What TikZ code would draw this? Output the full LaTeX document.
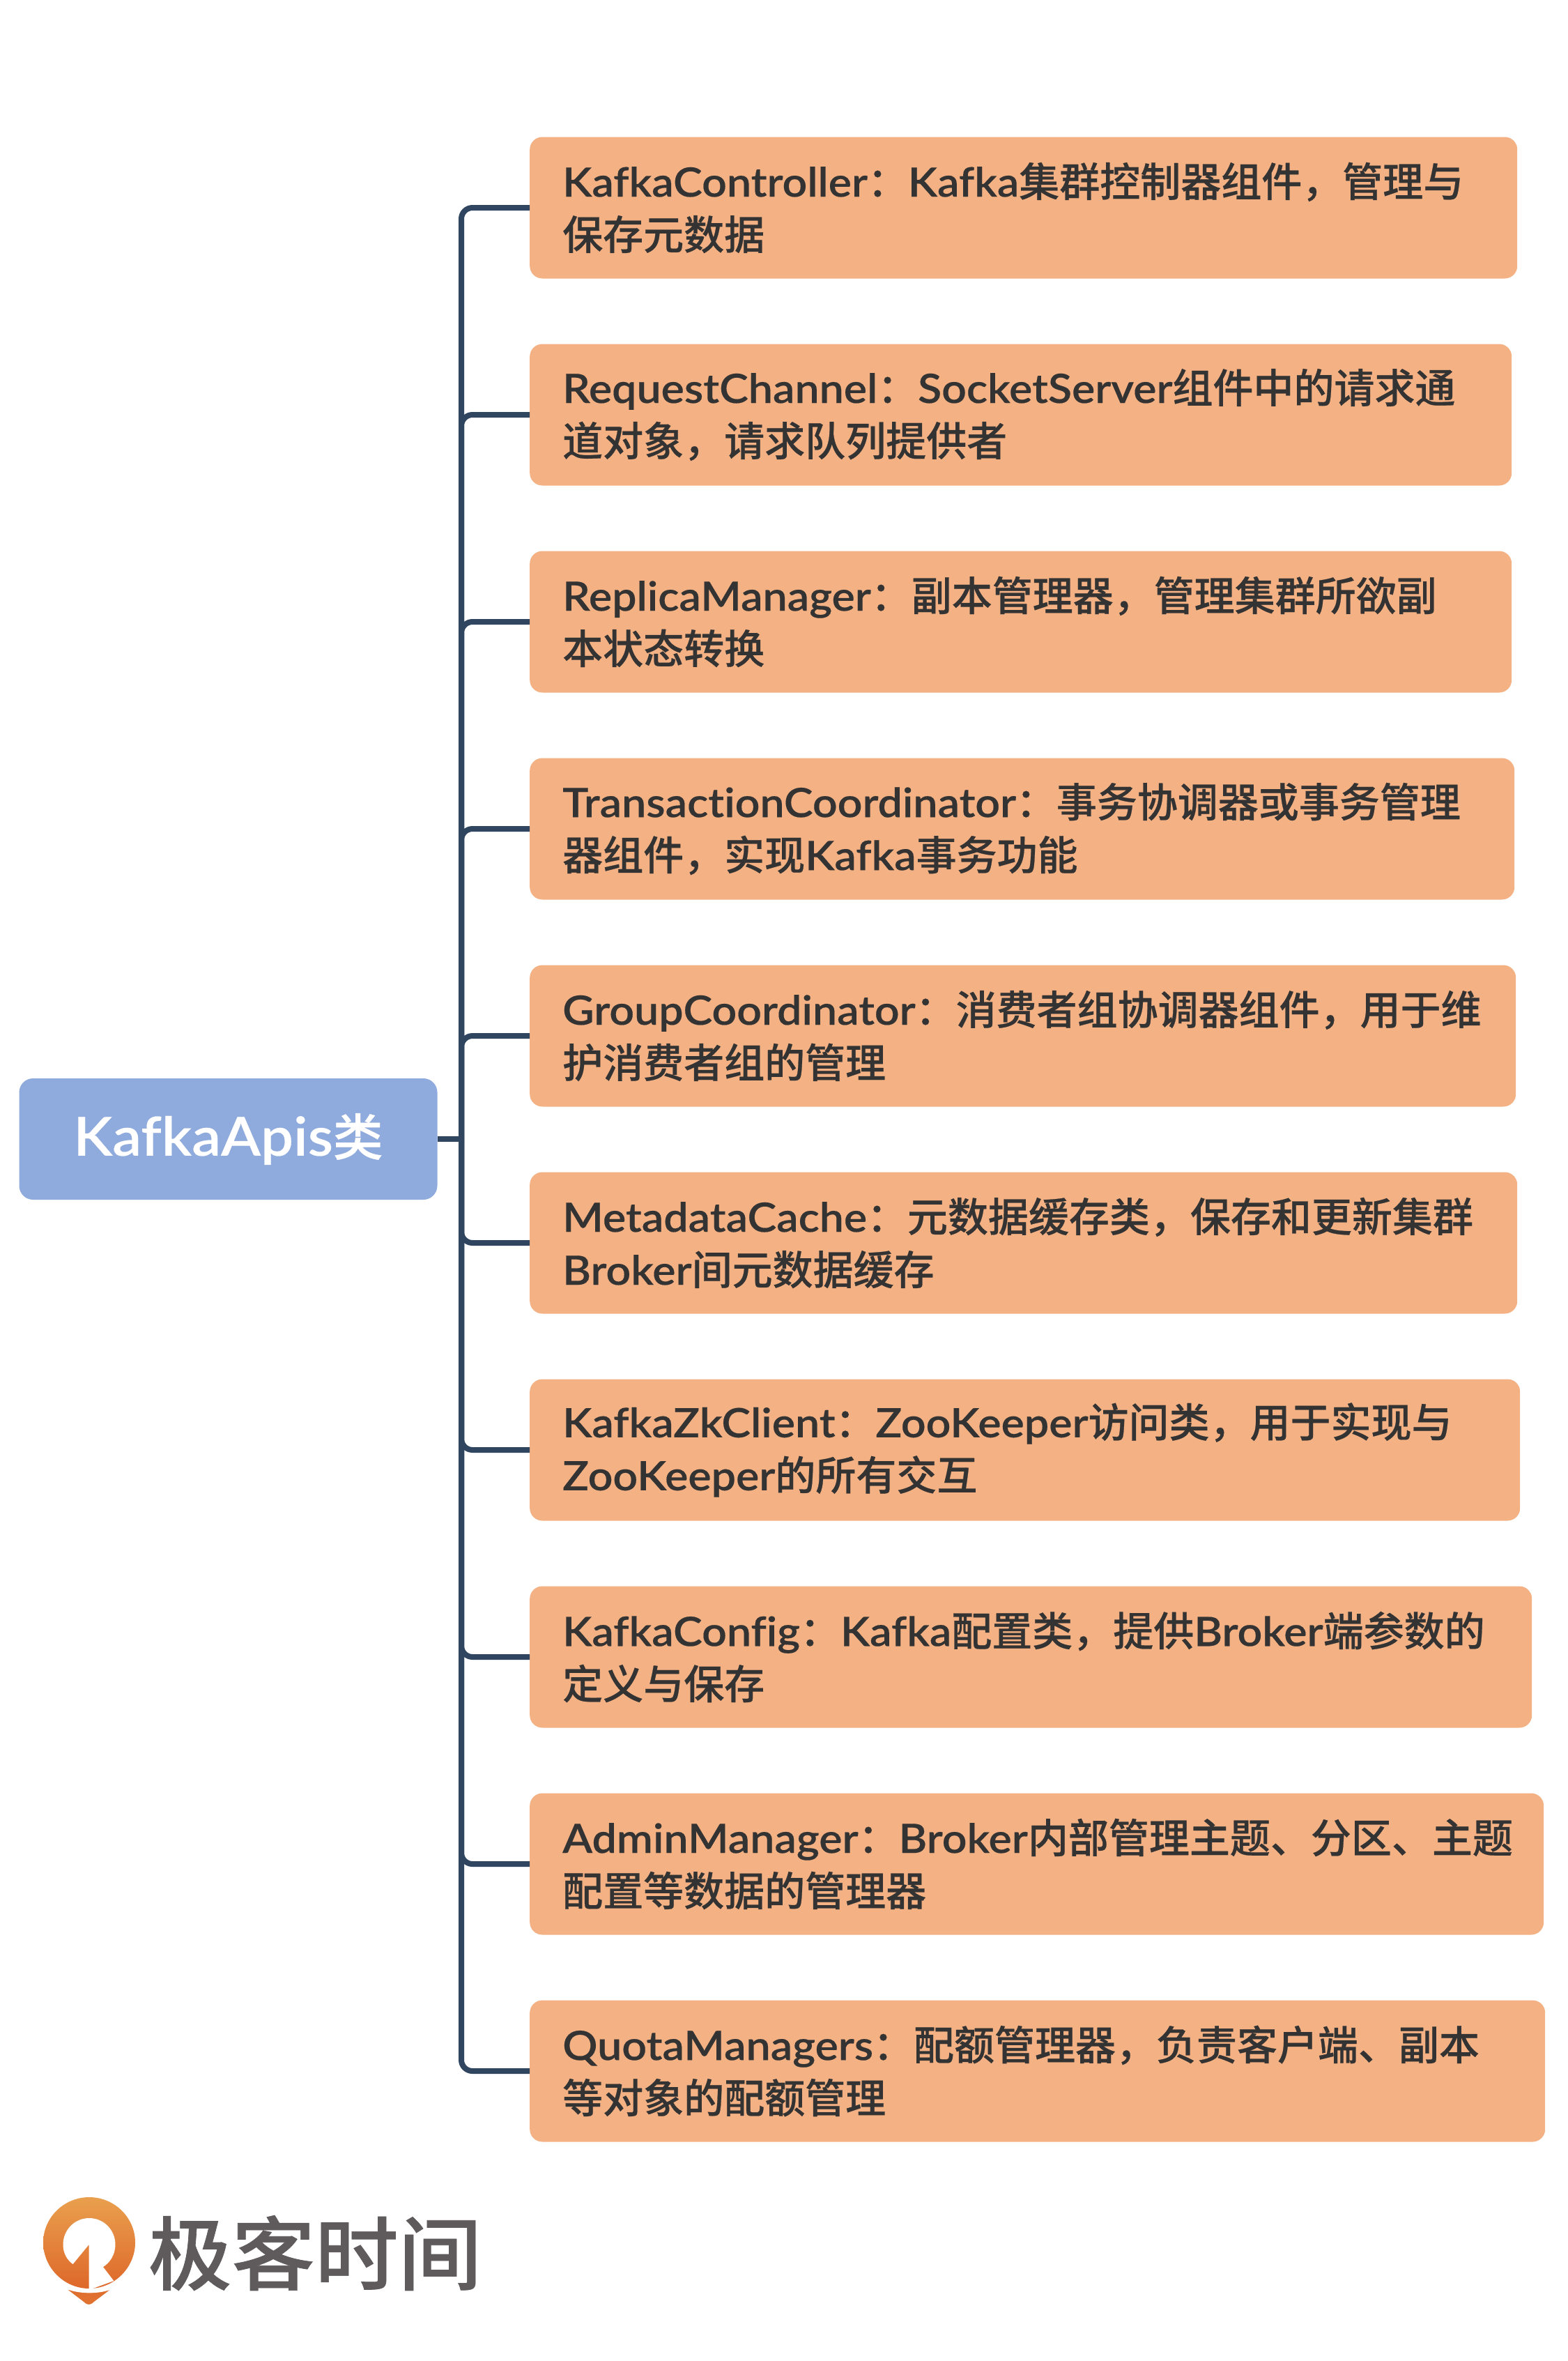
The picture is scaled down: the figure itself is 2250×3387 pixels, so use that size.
\documentclass[tikz,border=0pt]{standalone}
\usepackage{fontspec}
\setmainfont{Lato Semibold}[FakeStretch=1.08,FakeBold=0.25,Ligatures={NoCommon}]
\newfontfamily\cjk{Noto Sans CJK SC Medium}[FakeBold=0.4]
\newfontfamily\logocjk{Noto Sans CJK SC Medium}[FakeStretch=1.04,FakeBold=0.6]
\newcommand{\C}[1]{{\cjk #1}}
\definecolor{boxfill}{HTML}{F4B183}
\definecolor{rootfill}{HTML}{8FAADC}
\definecolor{linecol}{HTML}{2F4560}
\definecolor{inkcol}{HTML}{333333}
\definecolor{logoink}{HTML}{5F5B5C}
\definecolor{logotop}{HTML}{E9A04E}
\definecolor{logobot}{HTML}{DE682A}
\tikzset{
  leafbox/.style={draw=none,fill=boxfill,rounded corners=18,anchor=west,align=left,
    inner xsep=47,inner ysep=0,minimum height=203,
    text=inkcol,font=\fontsize{58}{76}\selectfont},
  rootbox/.style={draw=none,fill=rootfill,rounded corners=20,anchor=center,align=center,
    minimum width=600,minimum height=174,inner sep=0,
    text=white,font=\fontsize{77}{80}\selectfont},
  conn/.style={draw=linecol,line width=8,rounded corners=16}
}
\begin{document}
\begin{tikzpicture}[x=1pt,y=-1pt]
\useasboundingbox (0,0) rectangle (2250,3387);
\fill[white] (0,0) rectangle (2250,3387);
\coordinate (tr) at (662,1634);
\node[rootbox] (root) at (327.5,1634) {KafkaApis{\fontsize{72}{80}\selectfont\cjk 类}};
\node[leafbox,text width=1323] (b1) at (760,298) {KafkaController\C{：}Kafka\C{集群控制器组件，管理与}\\\C{保存元数据}};
\node[leafbox,text width=1315] (b2) at (760,595) {RequestChannel\C{：}SocketServer\C{组件中的请求通}\\\C{道对象，请求队列提供者}};
\node[leafbox,text width=1315] (b3) at (760,892) {ReplicaManager\C{：副本管理器，管理集群所欲副}\\\C{本状态转换}};
\node[leafbox,text width=1319] (b4) at (760,1189) {TransactionCoordinator\C{：事务协调器或事务管理}\\\C{器组件，实现}Kafka\C{事务功能}};
\node[leafbox,text width=1321] (b5) at (760,1486) {GroupCoordinator\C{：消费者组协调器组件，用于维}\\\C{护消费者组的管理}};
\node[leafbox,text width=1323] (b6) at (760,1783) {MetadataCache\C{：元数据缓存类，保存和更新集群}\\Broker\C{间元数据缓存}};
\node[leafbox,text width=1327] (b7) at (760,2080) {KafkaZkClient\C{：}ZooKeeper\C{访问类，用于实现与}\\ZooKeeper\C{的所有交互}};
\node[leafbox,text width=1344] (b8) at (760,2377) {KafkaConfig\C{：}Kafka\C{配置类，提供}Broker\C{端参数的}\\\C{定义与保存}};
\node[leafbox,text width=1361] (b9) at (760,2674) {AdminManager\C{：}Broker\C{内部管理主题、分区、主题}\\\C{配置等数据的管理器}};
\node[leafbox,text width=1363] (b10) at (760,2971) {QuotaManagers\C{：配额管理器，负责客户端、副本}\\\C{等对象的配额管理}};
\draw[conn] (root.east) -- (tr);
\foreach \n in {b1,b2,b3,b4,b5,b6,b7,b8,b9,b10}{\draw[conn] (tr) |- (\n.west);}
% logo
\shade[top color=logotop,bottom color=logobot] (128,3152) .. controls (164,3152) and (194,3181) .. (194,3217) .. controls (194,3253) and (164,3283) .. (128,3283) .. controls (92,3283) and (62,3253) .. (62,3217) .. controls (62,3181) and (92,3152) .. (128,3152) -- cycle;
\fill[white] (148,3252) .. controls (158,3246) and (165.5,3234) .. (165.5,3220) .. controls (165.5,3199) and (149,3182) .. (128,3182) .. controls (107,3182) and (90.5,3199) .. (90.5,3220) .. controls (90.5,3232) and (96,3242) .. (104.6,3248) -- (127.6,3220) -- (127.6,3285) -- (163.3,3272) -- cycle;
\shade[top color=logobot!90!logotop,bottom color=logobot!80!logotop,draw=white,line width=1.5] (90.8,3280.7) .. controls (110,3291) and (145,3291) .. (163.3,3281.7) -- (135,3303) .. controls (130,3308) and (125,3308) .. (120,3303) -- cycle;
\node[anchor=center,inner sep=0,text=logoink,font=\fontsize{115}{115}\selectfont\logocjk] (logotext) at (452,3232) {极客时间};
\end{tikzpicture}
\end{document}
